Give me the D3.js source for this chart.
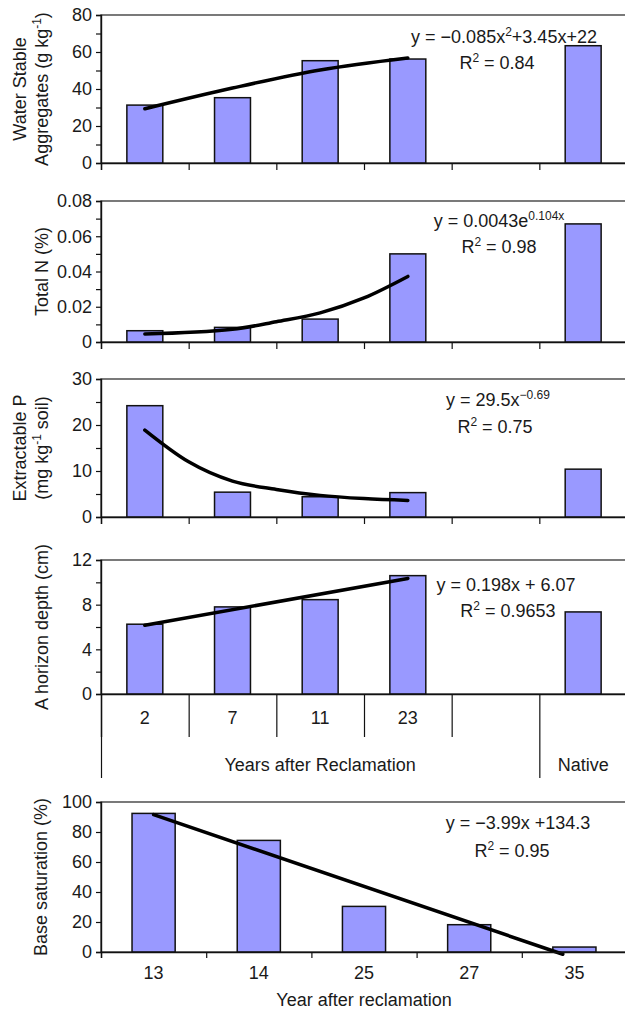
<!DOCTYPE html>
<html>
<head>
<meta charset="utf-8">
<script src="https://d3js.org/d3.v7.min.js"></script>
<style>
  body { margin: 0; background: #fff; }
  svg text { font-family: "Liberation Sans", Arial, sans-serif; fill: #1a1a1a; }
</style>
</head>
<body>
<div id="chart"></div>
<script>
// category slots for the four stacked panels (5th slot left empty)
const ageCats = ["2", "7", "11", "23", "gap", "Native"];
const ageLabels = ["2", "7", "11", "23", "", ""];
const bsCats = ["13", "14", "25", "27", "35"];

// bar values (null = empty slot)
const wsaValues = [31.3, 35.3, 55.3, 56.2, null, 63.4];
const totalNValues = [0.0064, 0.0083, 0.013, 0.050, null, 0.067];
const extPValues = [24.2, 5.4, 4.4, 5.3, null, 10.4];
const aDepthValues = [6.25, 7.8, 8.45, 10.6, null, 7.35];
const baseSatValues = [92.4, 74.4, 30.4, 18.2, 3.3];

// fitted curves as drawn, [slot index, value]
const wsaTrend = [[0, 29.3], [1, 40.5], [2, 50.3], [3, 56.8]];
const totalNTrend = [[0, 0.0045], [1, 0.0072], [1.5, 0.0115], [2, 0.0165], [2.5, 0.025], [3, 0.0372]];
const extPTrend = [[0, 18.9], [0.5, 12.0], [1, 7.8], [1.5, 6.0], [2, 4.7], [2.5, 4.0], [3, 3.6]];
const aDepthTrend = [[0, 6.15], [3, 10.35]];
const baseSatTrend = [[0, 91.6], [3.89, -1.5]];

// y axis ticks
const wsaTicks = [0, 20, 40, 60, 80];
const totalNTicks = [0, 0.02, 0.04, 0.06, 0.08];
const extPTicks = [0, 10, 20, 30];
const aDepthTicks = [0, 4, 8, 12];
const baseSatTicks = [0, 20, 40, 60, 80, 100];

const width = 625, height = 1012;
const left = 101, right = 627;
const barFrac = 0.41;

const svg = d3.select('#chart').append('svg')
    .attr('width', width)
    .attr('height', height);

function sup(text, parts) {
    // parts: [[string, isSuper], ...]
    parts.forEach(p => {
        const t = text.append('tspan').text(p[0]);
        if (p[1]) t.attr('baseline-shift', 'super').style('font-size', '12px');
    });
}

function drawPanel(cfg) {
    const g = svg.append('g');
    const n = cfg.cats.length;

    const x = d3.scaleBand().domain(cfg.cats).range([left, right]).padding(0);
    const xi = d3.scaleLinear().domain([-0.5, n - 0.5]).range([left, right]);
    const y = d3.scaleLinear().domain([0, d3.max(cfg.ticks)]).range([cfg.bottom, cfg.top]);

    // plot frame (top / right)
    g.append('rect')
        .attr('x', left).attr('y', cfg.top)
        .attr('width', right - left).attr('height', cfg.bottom - cfg.top)
        .attr('fill', 'none').attr('stroke', '#333').attr('stroke-width', 1.3);

    // bars
    const rows = cfg.cats.map((c, i) => ({cat: c, v: cfg.values[i]})).filter(d => d.v != null);
    g.selectAll('rect.bar')
        .data(rows)
        .join('rect')
        .attr('class', 'bar')
        .attr('x', d => x(d.cat) + x.bandwidth() * (1 - barFrac) / 2)
        .attr('width', x.bandwidth() * barFrac)
        .attr('y', d => y(d.v))
        .attr('height', d => y(0) - y(d.v))
        .attr('fill', '#9999ff')
        .attr('stroke', '#111')
        .attr('stroke-width', 1.5);

    // trend curve
    const line = d3.line()
        .x(d => xi(d[0]))
        .y(d => y(d[1]))
        .curve(d3.curveMonotoneX);
    g.append('path')
        .datum(cfg.trend)
        .attr('d', line)
        .attr('fill', 'none')
        .attr('stroke', '#000')
        .attr('stroke-width', 3.5)
        .attr('stroke-linecap', 'round');

    // y axis
    const yAxis = g.append('g')
        .attr('transform', `translate(${left},0)`)
        .call(d3.axisLeft(y).tickValues(cfg.ticks).tickSize(5).tickPadding(4)
            .tickFormat(cfg.fmt || (d => d)));
    if (cfg.minor) {
        g.append('g')
            .attr('transform', `translate(${left},0)`)
            .call(d3.axisLeft(y).tickValues(cfg.minor).tickSize(5).tickFormat(''))
            .select('.domain').remove();
    }
    g.selectAll('.tick line').attr('stroke', '#111').attr('stroke-width', 1.2);
    g.selectAll('.domain').attr('stroke', '#111').attr('stroke-width', 1.4);
    yAxis.selectAll('text').style('font-size', '18px').attr('fill', '#1a1a1a');

    // x axis: tick marks at slot boundaries
    const bx = d3.scaleLinear().domain([0, n]).range([left, right]);
    const xAxis = g.append('g')
        .attr('transform', `translate(0,${cfg.bottom})`);
    if (cfg.catAxis) {
        cfg.catAxis(g, x, bx, n);
    } else {
        xAxis.call(d3.axisBottom(bx).tickValues(d3.range(0, n)).tickSize(7).tickFormat(''));
    }
    g.selectAll('.domain').attr('stroke', '#111').attr('stroke-width', 1.4);
    g.selectAll('.tick line').attr('stroke', '#111').attr('stroke-width', 1.2);

    // y title
    cfg.title.forEach((t, i) => {
        const tx = g.append('text')
            .attr('transform', `translate(${t.x},${(cfg.top + cfg.bottom) / 2}) rotate(-90)`)
            .attr('text-anchor', 'middle')
            .attr('dy', '0.35em')
            .style('font-size', '18px');
        sup(tx, t.parts);
    });

    // equation + R2
    cfg.eq.forEach(e => {
        const tx = g.append('text')
            .attr('x', e.x).attr('y', e.y)
            .attr('text-anchor', 'middle')
            .attr('dy', '0.35em')
            .style('font-size', '18px');
        sup(tx, e.parts);
    });
}

drawPanel({
    cats: ageCats, values: wsaValues, trend: wsaTrend, ticks: wsaTicks,
    minor: [10, 30, 50, 70], top: 15, bottom: 163,
    title: [{x: 20, parts: [["Water Stable", false]]},
            {x: 42, parts: [["Aggregates (g kg", false], ["-1", true], [")", false]]}],
    eq: [{x: 504, y: 37, parts: [["y = \u22120.085x", false], ["2", true], ["+3.45x+22", false]]},
         {x: 497, y: 63, parts: [["R", false], ["2", true], [" = 0.84", false]]}]
});

drawPanel({
    cats: ageCats, values: totalNValues, trend: totalNTrend, ticks: totalNTicks,
    minor: [0.01, 0.03, 0.05, 0.07], top: 201, bottom: 342,
    fmt: d => d === 0 ? '0' : d3.format('.2f')(d),
    title: [{x: 42, parts: [["Total N (%)", false]]}],
    eq: [{x: 499, y: 221, parts: [["y = 0.0043e", false], ["0.104x", true]]},
         {x: 499, y: 247, parts: [["R", false], ["2", true], [" = 0.98", false]]}]
});

drawPanel({
    cats: ageCats, values: extPValues, trend: extPTrend, ticks: extPTicks,
    minor: [5, 15, 25], top: 379, bottom: 517,
    title: [{x: 20, parts: [["Extractable P", false]]},
            {x: 42, parts: [["(mg kg", false], ["-1", true], [" soil)", false]]}],
    eq: [{x: 498, y: 400, parts: [["y = 29.5x", false], ["\u22120.69", true]]},
         {x: 495, y: 427, parts: [["R", false], ["2", true], [" = 0.75", false]]}]
});

drawPanel({
    cats: ageCats, values: aDepthValues, trend: aDepthTrend, ticks: aDepthTicks,
    minor: [2, 6, 10], top: 560, bottom: 694,
    title: [{x: 42, parts: [["A horizon depth (cm)", false]]}],
    eq: [{x: 506, y: 585, parts: [["y = 0.198x + 6.07", false]]},
         {x: 508, y: 611, parts: [["R", false], ["2", true], [" = 0.9653", false]]}],
    catAxis: function(g, x, bx, n) {
        const base = g.append('g').attr('transform', 'translate(0,694)');
        // short separators between years
        base.call(d3.axisBottom(bx).tickValues([1, 2, 3, 4]).tickSize(43).tickFormat(''));
        // long separators around the groups
        base.append('g')
            .call(d3.axisBottom(bx).tickValues([0, 5]).tickSize(84).tickFormat(''))
            .select('.domain').remove();
        // year labels
        const lab = base.append('g')
            .call(d3.axisBottom(x).tickSize(0).tickPadding(17).tickFormat((d, i) => ageLabels[i]));
        lab.select('.domain').remove();
        lab.selectAll('text').style('font-size', '18px').attr('fill', '#1a1a1a');
        // group labels
        base.append('text')
            .attr('x', (bx(0) + bx(5)) / 2).attr('y', 71)
            .attr('dy', '0.35em')
            .attr('text-anchor', 'middle')
            .style('font-size', '18px')
            .text('Years after Reclamation');
        base.append('text')
            .attr('x', (bx(5) + bx(6)) / 2).attr('y', 71)
            .attr('dy', '0.35em')
            .attr('text-anchor', 'middle')
            .style('font-size', '18px')
            .text('Native');
    }
});

drawPanel({
    cats: bsCats, values: baseSatValues, trend: baseSatTrend, ticks: baseSatTicks,
    minor: null, top: 802, bottom: 952,
    title: [{x: 41, parts: [["Base saturation (%)", false]]}],
    eq: [{x: 518, y: 823, parts: [["y = \u22123.99x +134.3", false]]},
         {x: 512, y: 851, parts: [["R", false], ["2", true], [" = 0.95", false]]}],
    catAxis: function(g, x, bx, n) {
        const base = g.append('g').attr('transform', 'translate(0,952)');
        base.call(d3.axisBottom(bx).tickValues(d3.range(0, n)).tickSize(6).tickFormat(''));
        const lab = base.append('g')
            .call(d3.axisBottom(x).tickSize(0).tickPadding(14));
        lab.select('.domain').remove();
        lab.selectAll('text').style('font-size', '18px').attr('fill', '#1a1a1a');
        base.append('text')
            .attr('x', (left + right) / 2).attr('y', 48)
            .attr('dy', '0.35em')
            .attr('text-anchor', 'middle')
            .style('font-size', '18px')
            .text('Year after reclamation');
    }
});
</script>
</body>
</html>
